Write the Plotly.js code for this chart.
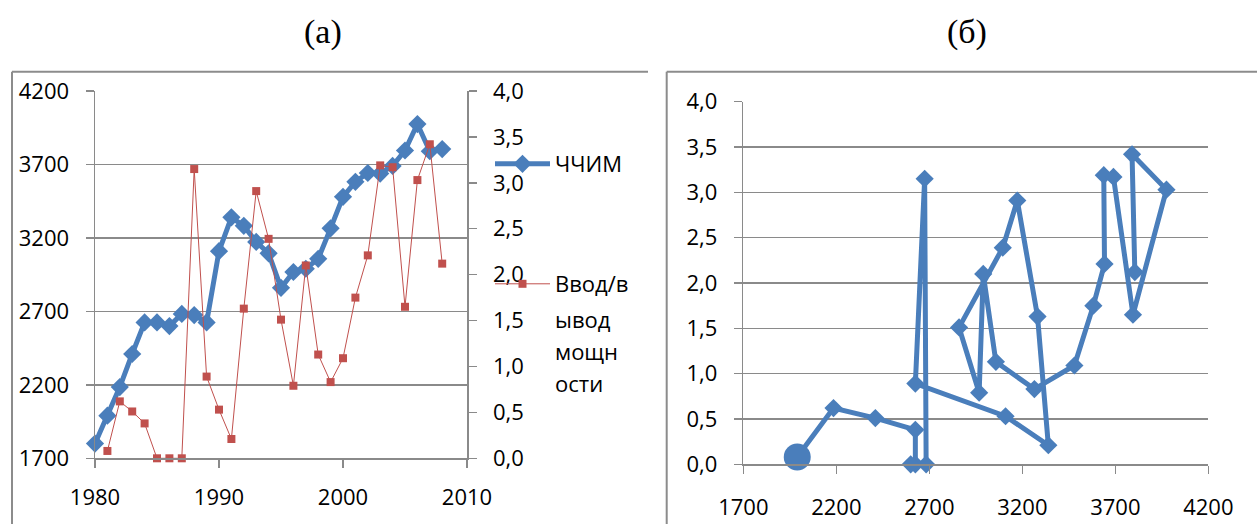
<!DOCTYPE html>
<html>
<head>
<meta charset="utf-8">
<script src="https://cdn.plot.ly/plotly-3.0.1.min.js"></script>
<style>html,body{margin:0;padding:0;background:#fff;}#chart{width:1257px;height:524px;}</style>
</head>
<body>
<div id="chart"></div>
<script>
// ---- data ----
var years = [1980,1981,1982,1983,1984,1985,1986,1987,1988,1989,1990,1991,1992,1993,1994,1995,1996,1997,1998,1999,2000,2001,2002,2003,2004,2005,2006,2007,2008];
var chchim = [1800,1990,2185,2410,2625,2625,2600,2683,2675,2625,3110,3340,3282,3173,3095,2860,2968,2990,3058,3265,3480,3582,3642,3638,3690,3795,3975,3790,3805];
var ratio = [null,0.08,0.62,0.51,0.38,0.0,0.0,0.0,3.15,0.89,0.53,0.21,1.63,2.91,2.39,1.51,0.79,2.10,1.13,0.83,1.09,1.75,2.21,3.19,3.17,1.65,3.03,3.42,2.12];
var seriesNames = ["ЧЧИМ", "Ввод/в"];
var legendTail = ["ывод", "мощн", "ости"];
var panelTitles = ["(а)", "(б)"];

// ---- layout helpers ----
var W = 1257, H = 524;
function px(x){ return x / W; }
function py(y){ return 1 - y / H; }
var BLUE = "#4A7EBB", RED = "#C0504D", GRID = "#8a8a8a";
var tickFont = {family: "Open Sans", size: 22, color: "#000"};

var traces = [
  {x: years, y: chchim, xaxis: "x", yaxis: "y", type: "scatter", mode: "lines+markers",
   name: seriesNames[0], legend: "legend", cliponaxis: false,
   line: {color: BLUE, width: 5}, marker: {symbol: "diamond", size: 14, color: BLUE}},
  {x: years, y: ratio, xaxis: "x", yaxis: "y2", type: "scatter", mode: "lines+markers",
   name: seriesNames[1], legend: "legend2", cliponaxis: false,
   line: {color: RED, width: 1}, marker: {symbol: "square", size: 8, color: RED}},
  {x: chchim.slice(1), y: ratio.slice(1), xaxis: "x2", yaxis: "y3", type: "scatter", mode: "lines+markers",
   showlegend: false, cliponaxis: false,
   line: {color: BLUE, width: 5}, marker: {symbol: "diamond", size: 14, color: BLUE}},
  {x: [chchim[1]], y: [ratio[1]], xaxis: "x2", yaxis: "y3", type: "scatter", mode: "markers",
   showlegend: false, cliponaxis: false, marker: {symbol: "circle", size: 27, color: BLUE}}
];

function axisBase(){
  return {showline: true, linecolor: GRID, linewidth: 1.5, ticks: "outside", ticklen: 8,
          tickcolor: GRID, tickwidth: 1.5, zeroline: false, tickfont: tickFont, fixedrange: true};
}

var xaxis = Object.assign(axisBase(), {domain: [px(95), px(467)], range: [1980, 2010], dtick: 10,
  tick0: 1980, anchor: "y", showgrid: false, ticklabelstandoff: 11});
var yaxis = Object.assign(axisBase(), {domain: [py(458.3), py(91)], range: [1700, 4200], dtick: 500,
  tick0: 1700, anchor: "x", showgrid: true, gridcolor: GRID, gridwidth: 1.5, ticklabelstandoff: 12});
var yaxis2 = Object.assign(axisBase(), {domain: [py(458.3), py(91)], range: [0, 4], dtick: 0.5,
  tickformat: ".1f", overlaying: "y", side: "right", anchor: "x", showgrid: false, ticklabelstandoff: 12});
var xaxis2 = Object.assign(axisBase(), {domain: [px(743.3), px(1208.3)], range: [1700, 4200], dtick: 500,
  tick0: 1700, anchor: "y3", showgrid: false, ticklabelstandoff: 15});
var yaxis3 = Object.assign(axisBase(), {domain: [py(464.3), py(101.7)], range: [0, 4], dtick: 0.5,
  tickformat: ".1f", anchor: "x2", showgrid: true, gridcolor: GRID, gridwidth: 1.5, ticklabelstandoff: 12});

var titleFont = {family: "Liberation Serif", size: 34, color: "#000"};
var annotations = [
  {text: panelTitles[0], x: px(323), y: py(32), xref: "paper", yref: "paper", showarrow: false,
   xanchor: "center", yanchor: "middle", font: titleFont},
  {text: panelTitles[1], x: px(967), y: py(32), xref: "paper", yref: "paper", showarrow: false,
   xanchor: "center", yanchor: "middle", font: titleFont}
];
var tailY = [319, 351, 383];
legendTail.forEach(function(t, i){
  annotations.push({text: t, x: px(553), y: py(tailY[i]), xref: "paper", yref: "paper", showarrow: false,
    xanchor: "left", yanchor: "middle", font: tickFont});
});

var boxLine = {color: "#8c8c8c", width: 2};
var shapes = [
  {type: "line", xref: "paper", yref: "paper", x0: px(12), x1: px(12), y0: py(71.7), y1: 0, line: boxLine},
  {type: "line", xref: "paper", yref: "paper", x0: px(12), x1: px(648), y0: py(71.7), y1: py(71.7), line: boxLine},
  {type: "line", xref: "paper", yref: "paper", x0: px(666.7), x1: px(666.7), y0: py(71.7), y1: 0, line: boxLine},
  {type: "line", xref: "paper", yref: "paper", x0: px(666.7), x1: 1, y0: py(71.7), y1: py(71.7), line: boxLine}
];

var layout = {
  width: W, height: H, margin: {l: 0, r: 0, t: 0, b: 0},
  paper_bgcolor: "#fff", plot_bgcolor: "rgba(0,0,0,0)",
  separators: ", ",
  font: tickFont,
  xaxis: xaxis, yaxis: yaxis, yaxis2: yaxis2, xaxis2: xaxis2, yaxis3: yaxis3,
  legend: {x: px(490), y: py(164), xanchor: "left", yanchor: "middle", bgcolor: "rgba(0,0,0,0)",
           font: tickFont, itemwidth: 55, borderwidth: 0},
  legend2: {x: px(490), y: py(284), xanchor: "left", yanchor: "middle", bgcolor: "rgba(0,0,0,0)",
           font: tickFont, itemwidth: 55, borderwidth: 0},
  annotations: annotations,
  shapes: shapes
};

Plotly.newPlot("chart", traces, layout, {displayModeBar: false, staticPlot: true});
</script>
</body>
</html>
